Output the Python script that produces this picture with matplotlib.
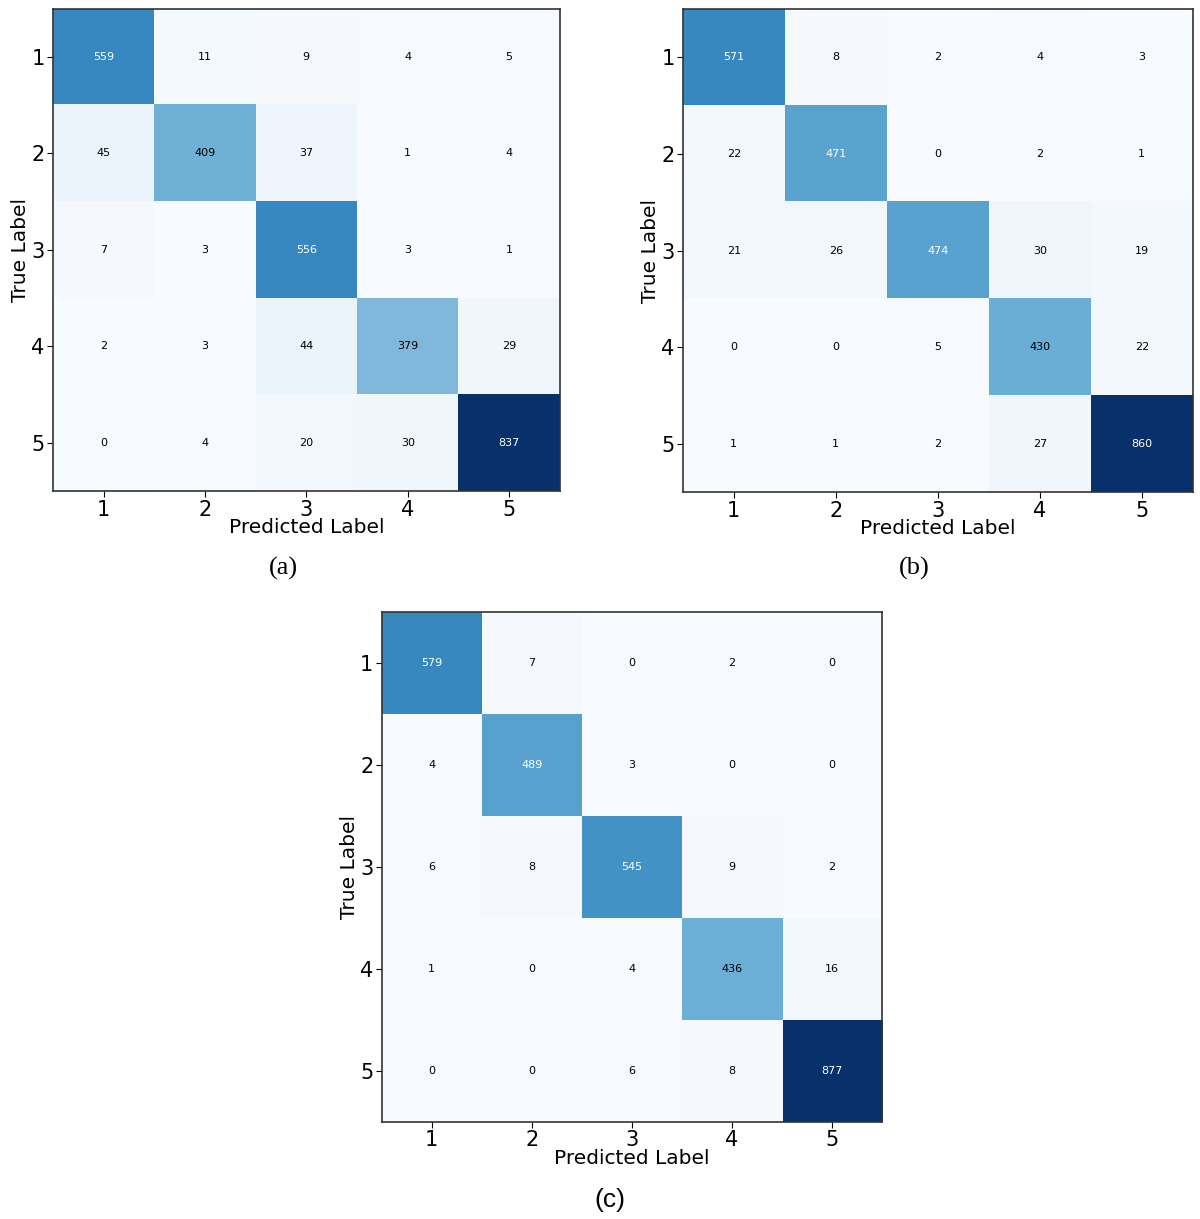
import numpy as np
import matplotlib
matplotlib.use('Agg')
import matplotlib.pyplot as plt

class_labels = ['1', '2', '3', '4', '5']

cm_a = np.array([
    [559, 11, 9, 4, 5],
    [45, 409, 37, 1, 4],
    [7, 3, 556, 3, 1],
    [2, 3, 44, 379, 29],
    [0, 4, 20, 30, 837],
])

cm_b = np.array([
    [571, 8, 2, 4, 3],
    [22, 471, 0, 2, 1],
    [21, 26, 474, 30, 19],
    [0, 0, 5, 430, 22],
    [1, 1, 2, 27, 860],
])

cm_c = np.array([
    [579, 7, 0, 2, 0],
    [4, 489, 3, 0, 0],
    [6, 8, 545, 9, 2],
    [1, 0, 4, 436, 16],
    [0, 0, 6, 8, 877],
])

captions = ['(a)', '(b)', '(c)']


def draw_cm(ax, cm):
    ax.imshow(cm, cmap=plt.cm.Blues, vmin=0, vmax=cm.max(), aspect='auto',
              interpolation='nearest')
    thresh = cm.max() / 2.0
    for i in range(cm.shape[0]):
        for j in range(cm.shape[1]):
            ax.text(j, i, str(cm[i, j]), ha='center', va='center', fontsize=8,
                    color='white' if cm[i, j] > thresh else 'black')
    ax.set_xticks(range(len(class_labels)))
    ax.set_yticks(range(len(class_labels)))
    ax.set_xticklabels(class_labels)
    ax.set_yticklabels(class_labels)
    ax.tick_params(axis='both', labelsize=15, length=4, pad=2)
    ax.set_xlabel('Predicted Label', fontsize=14.5, labelpad=-1)
    ax.set_ylabel('True Label', fontsize=14.5, labelpad=1)
    for sp in ax.spines.values():
        sp.set_color('#333333')
        sp.set_linewidth(1.2)


fig = plt.figure(figsize=(12, 12.19), dpi=100)

ax_a = fig.add_axes([0.044, 0.597, 0.4225, 0.396])
ax_b = fig.add_axes([0.569, 0.596, 0.425, 0.397])
ax_c = fig.add_axes([0.318, 0.0796, 0.417, 0.418])

draw_cm(ax_a, cm_a)
draw_cm(ax_b, cm_b)
draw_cm(ax_c, cm_c)

fig.text(283 / 1200, 1 - 568 / 1219, captions[0], ha='center', va='center',
         fontsize=19, family='Liberation Serif')
fig.text(914 / 1200, 1 - 568 / 1219, captions[1], ha='center', va='center',
         fontsize=19, family='Liberation Serif')
fig.text(610 / 1200, 1 - 1200 / 1219, captions[2], ha='center', va='center',
         fontsize=19, family='Liberation Sans')

plt.savefig('out.png', dpi=100)
